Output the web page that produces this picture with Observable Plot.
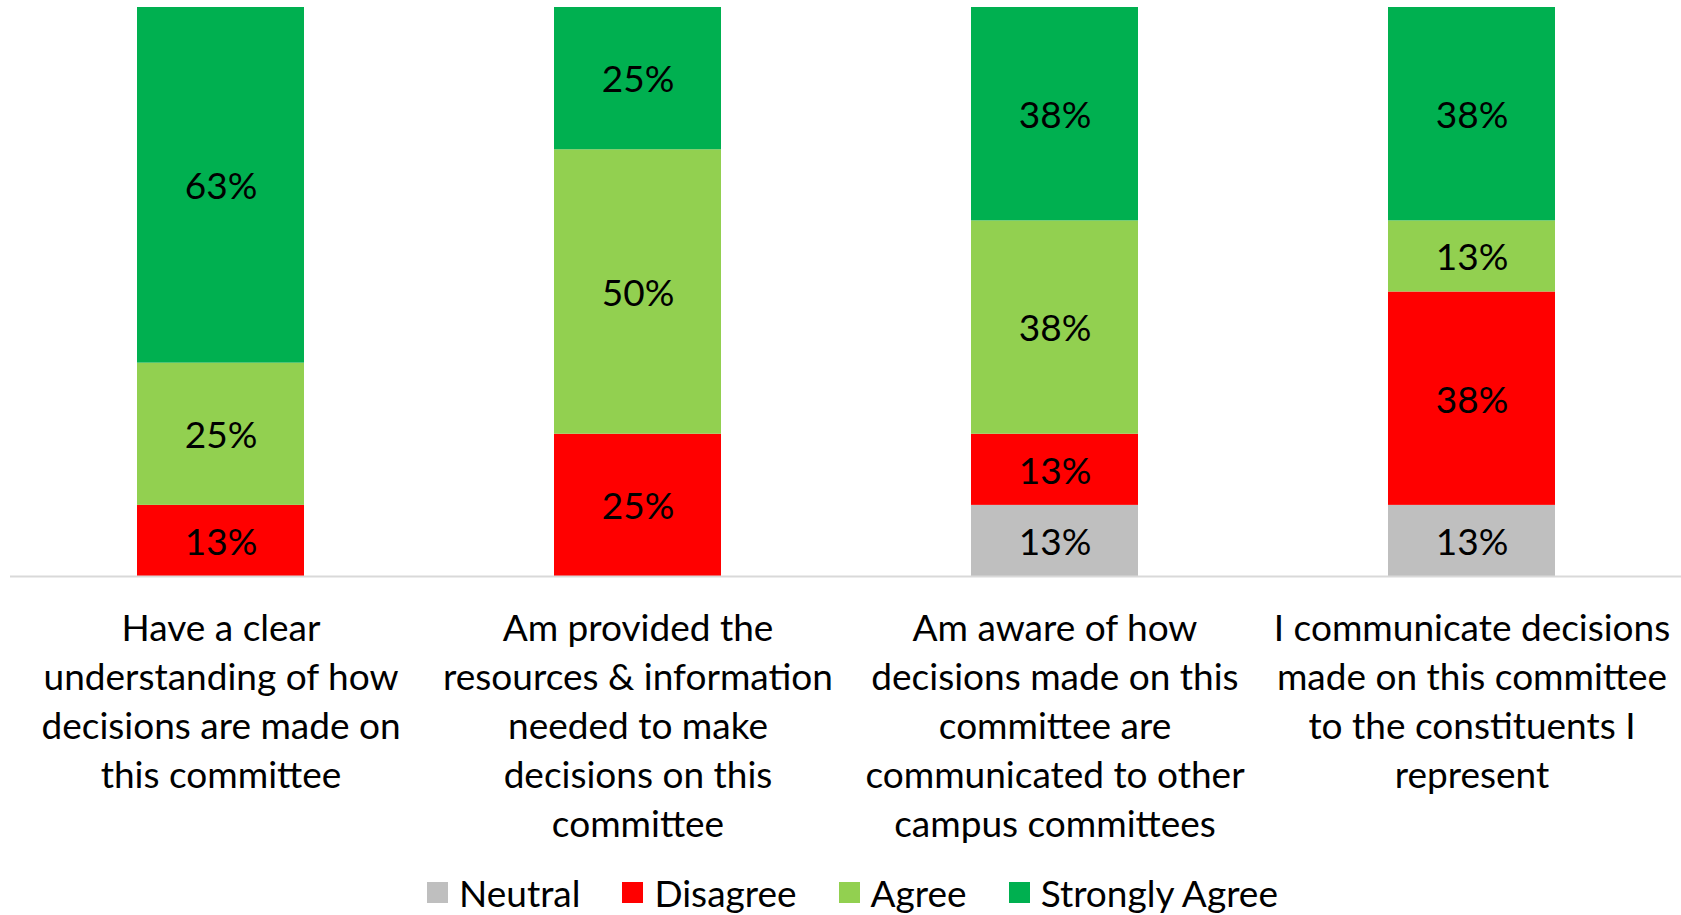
<!DOCTYPE html>
<html>
<head>
<meta charset="utf-8">
<script src="https://cdn.jsdelivr.net/npm/d3@7"></script>
<script src="https://cdn.jsdelivr.net/npm/@observablehq/plot@0.6"></script>
<style>
  html, body { margin: 0; padding: 0; background: #fff; overflow: hidden; }
  body { width: 1681px; height: 915px; font-family: Lato, "Open Sans", sans-serif; }
  #legend { display: flex; justify-content: center; align-items: center; height: 45px;
            font-size: 37px; color: #000; padding-left: 24px; box-sizing: border-box; }
  .item { display: flex; align-items: center; margin: 0 21px; }
  .sw { width: 21px; height: 21px; margin-right: 11px; }
</style>
</head>
<body>
<div id="chart"></div>
<div id="legend"></div>
<script>
// ---- data ----
const questions = [
  "Have a clear understanding of how decisions are made on this committee",
  "Am provided the resources & information needed to make decisions on this committee",
  "Am aware of how decisions made on this committee are communicated to other campus committees",
  "I communicate decisions made on this committee to the constituents I represent"
];
const tickLabels = [
  "Have a clear\nunderstanding of how\ndecisions are made on\nthis committee",
  "Am provided the\nresources & information\nneeded to make\ndecisions on this\ncommittee",
  "Am aware of how\ndecisions made on this\ncommittee are\ncommunicated to other\ncampus committees",
  "I communicate decisions\nmade on this committee\nto the constituents I\nrepresent"
];
const seriesNames = ["Neutral", "Disagree", "Agree", "Strongly Agree"];
const seriesColors = ["#bfbfbf", "#ff0000", "#92d050", "#00b050"];
const neutral       = [0,    0,  12.5, 12.5];
const disagree      = [12.5, 25, 12.5, 37.5];
const agree         = [25,   50, 37.5, 12.5];
const stronglyAgree = [62.5, 25, 37.5, 37.5];

// ---- build table ----
const seriesValues = [neutral, disagree, agree, stronglyAgree];
const rows = [];
questions.forEach((q, i) => {
  seriesNames.forEach((s, j) => {
    const v = seriesValues[j][i];
    if (v > 0) rows.push({q, s, v});
  });
});
const labelOf = new Map(questions.map((q, i) => [q, tickLabels[i]]));

const chart = Plot.plot({
  width: 1681,
  height: 870,
  marginTop: 7,
  marginBottom: 294,
  marginLeft: 10,
  marginRight: 0,
  style: { fontFamily: "Lato, 'Open Sans', sans-serif", background: "#fff" },
  x: { domain: questions, paddingInner: 0.6, paddingOuter: 0.3, label: null },
  y: { domain: [0, 100], axis: null },
  color: { domain: seriesNames, range: seriesColors },
  marks: [
    Plot.barY(rows, { x: "q", y: "v", fill: "s", order: seriesNames }),
    Plot.ruleY([0], { stroke: "#d9d9d9", strokeWidth: 2 }),
    Plot.text(rows, Plot.stackY({ x: "q", y: "v", z: "s", order: seriesNames,
      text: d => Math.round(d.v) + "%", fontSize: 37, fill: "#000", dy: 2 })),
    Plot.axisX({ tickSize: 0, tickPadding: 30, fontSize: 37, lineHeight: 1.32,
      tickFormat: d => labelOf.get(d), fill: "#000", label: null })
  ]
});
document.getElementById("chart").appendChild(chart);

const legend = document.getElementById("legend");
seriesNames.forEach((s, j) => {
  const it = document.createElement("div");
  it.className = "item";
  const sw = document.createElement("div");
  sw.className = "sw";
  sw.style.background = seriesColors[j];
  const t = document.createElement("span");
  t.textContent = s;
  it.appendChild(sw); it.appendChild(t);
  legend.appendChild(it);
});
</script>
</body>
</html>
